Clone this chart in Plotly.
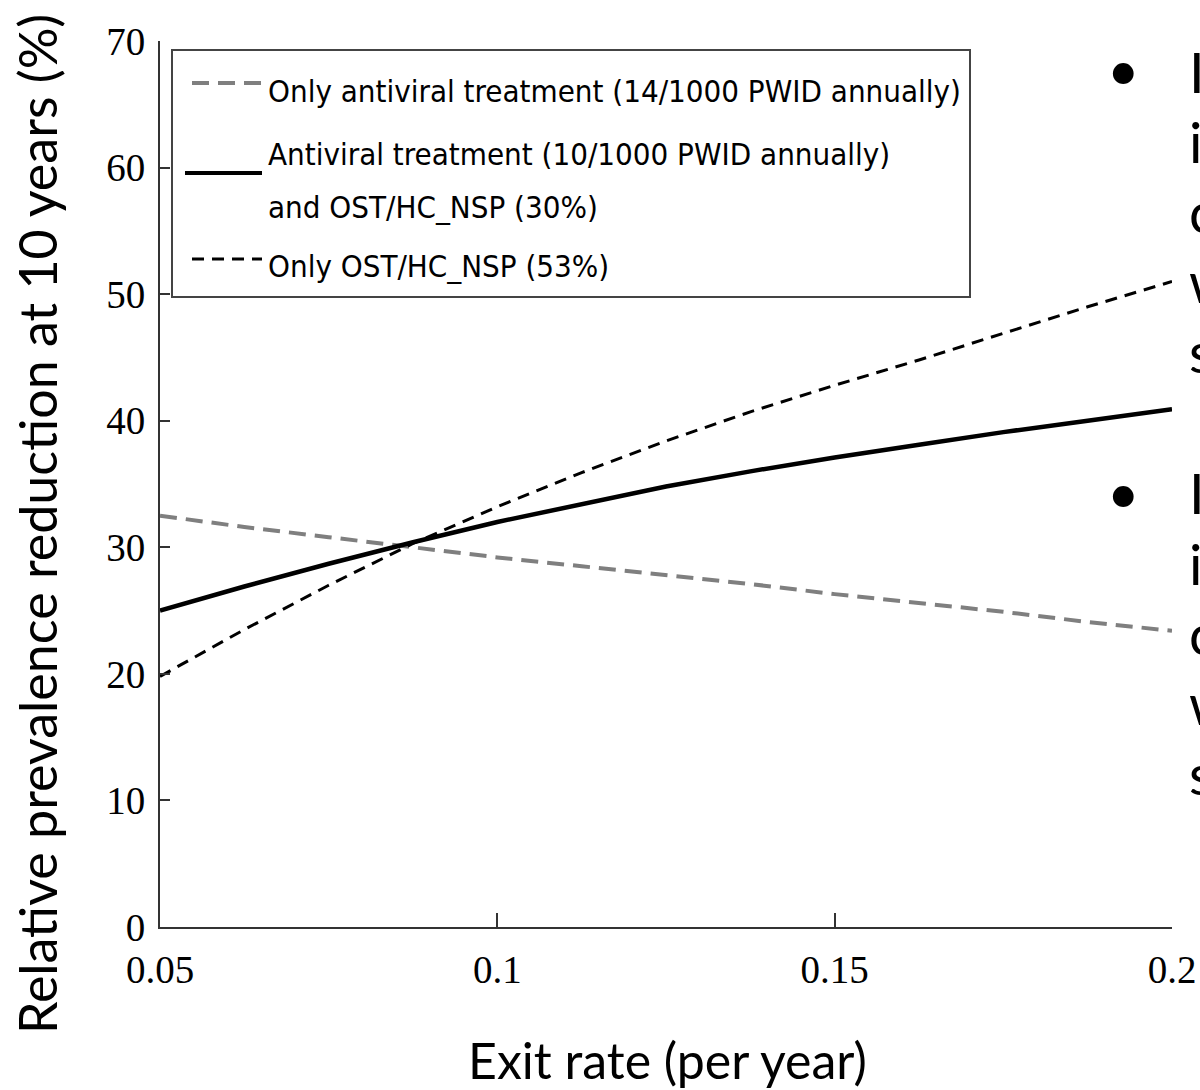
import plotly.graph_objects as go

# ---------------- data ----------------
exit_rate = [0.05, 0.0625, 0.075, 0.0875, 0.1, 0.1125, 0.125, 0.1375, 0.15, 0.1625, 0.175, 0.1875, 0.2]
only_antiviral = [32.5, 31.6, 30.8, 30.0, 29.2, 28.5, 27.8, 27.1, 26.3, 25.6, 24.9, 24.1, 23.4]
antiviral_and_ost = [25.0, 26.9, 28.7, 30.4, 32.0, 33.4, 34.8, 36.0, 37.1, 38.1, 39.1, 40.0, 40.9]
only_ost = [19.8, 23.5, 27.0, 30.3, 33.2, 35.9, 38.4, 40.7, 42.8, 44.8, 46.9, 49.0, 51.0]

x_tick_vals = [0.05, 0.1, 0.15, 0.2]
x_tick_text = ["0.05", "0.1", "0.15", "0.2"]
y_tick_vals = [0, 10, 20, 30, 40, 50, 60, 70]

legend_labels = [
    "Only antiviral treatment (14/1000 PWID annually)",
    "Antiviral treatment (10/1000 PWID annually)",
    "and OST/HC_NSP (30%)",
    "Only OST/HC_NSP (53%)",
]
y_title = "Relative prevalence reduction at 10 years (%)"
x_title = "Exit rate (per year)"
side_letters = ["I", "i", "c", "w", "s"]

# ---------------- layout constants (pixels) ----------------
W, H = 1200, 1090
L, R, T, B = 160, 28, 41, 163
PW = W - L - R
PH = H - T - B


def px(xp):
    return (xp - L) / PW


def py(yp):
    return (H - B - yp) / PH


GRAY = "#7f7f7f"
AXC = "#333333"

fig = go.Figure()
fig.add_trace(go.Scatter(x=exit_rate, y=only_antiviral, mode="lines", name=legend_labels[0],
                         line=dict(color=GRAY, width=4, dash="17px,9px"), showlegend=False))
fig.add_trace(go.Scatter(x=exit_rate, y=antiviral_and_ost, mode="lines",
                         name=legend_labels[1] + " " + legend_labels[2],
                         line=dict(color="black", width=4.5), showlegend=False))
fig.add_trace(go.Scatter(x=exit_rate, y=only_ost, mode="lines", name=legend_labels[3],
                         line=dict(color="black", width=3, dash="12px,8px"), showlegend=False))

tickfont = dict(family="Liberation Serif", size=39, color="black")

fig.update_layout(
    width=W, height=H, autosize=False,
    margin=dict(l=L, r=R, t=T, b=B, pad=0, autoexpand=False),
    paper_bgcolor="white", plot_bgcolor="white",
    showlegend=False,
    xaxis=dict(range=[0.05, 0.2], tickvals=x_tick_vals, ticktext=x_tick_text,
               ticks="inside", ticklen=14, tickwidth=2, tickcolor=AXC,
               showline=True, linecolor=AXC, linewidth=2, showgrid=False, zeroline=False,
               tickfont=tickfont, ticklabelstandoff=7, automargin=False),
    yaxis=dict(range=[0, 70], tickvals=y_tick_vals,
               ticks="inside", ticklen=10, tickwidth=2, tickcolor=AXC,
               showline=True, linecolor=AXC, linewidth=2, showgrid=False, zeroline=False,
               tickfont=tickfont, ticklabelstandoff=5, automargin=False),
)

shapes = []
annotations = []

# legend box
shapes.append(dict(type="rect", xref="paper", yref="paper",
                   x0=px(172), x1=px(970), y0=py(297), y1=py(50),
                   line=dict(color="#444444", width=2), fillcolor="white", layer="above"))
# legend samples
shapes.append(dict(type="line", xref="paper", yref="paper", x0=px(192), x1=px(262), y0=py(83), y1=py(83),
                   line=dict(color=GRAY, width=4, dash="17px,9px"), layer="above"))
shapes.append(dict(type="line", xref="paper", yref="paper", x0=px(185), x1=px(262), y0=py(173), y1=py(173),
                   line=dict(color="black", width=4), layer="above"))
shapes.append(dict(type="line", xref="paper", yref="paper", x0=px(192), x1=px(262), y0=py(259), y1=py(259),
                   line=dict(color="black", width=3, dash="12px,8px"), layer="above"))

legfont = dict(family="DejaVu Sans Condensed, Lato", size=31, color="black")
for label, yc in zip(legend_labels, [91, 154, 207, 266]):
    annotations.append(dict(xref="paper", yref="paper", x=px(266), y=py(yc), text=label,
                            showarrow=False, xanchor="left", yanchor="middle", font=legfont))

# axis titles
annotations.append(dict(xref="paper", yref="paper", x=px(37), y=py(524), text=y_title,
                        textangle=-90, showarrow=False, xanchor="center", yanchor="middle",
                        font=dict(family="Lato", size=52, color="black")))
annotations.append(dict(xref="paper", yref="paper", x=px(667), y=py(1060), text=x_title,
                        showarrow=False, xanchor="center", yanchor="middle",
                        font=dict(family="Lato", size=50, color="black")))

# cut-off slide text on the right
sidefont = dict(family="Lato", size=56, color="black")
for base in [93, 515]:
    annotations.append(dict(xref="paper", yref="paper", x=px(1123), y=py(base - 24), text="•",
                            showarrow=False, xanchor="center", yanchor="middle", font=sidefont))
    for i, letter in enumerate(side_letters):
        annotations.append(dict(xref="paper", yref="paper", x=px(1187), y=py(base + 70 * i - 22),
                                text=letter, showarrow=False, xanchor="left", yanchor="middle",
                                font=sidefont))

fig.update_layout(shapes=shapes, annotations=annotations)
fig.write_html("out.html")
